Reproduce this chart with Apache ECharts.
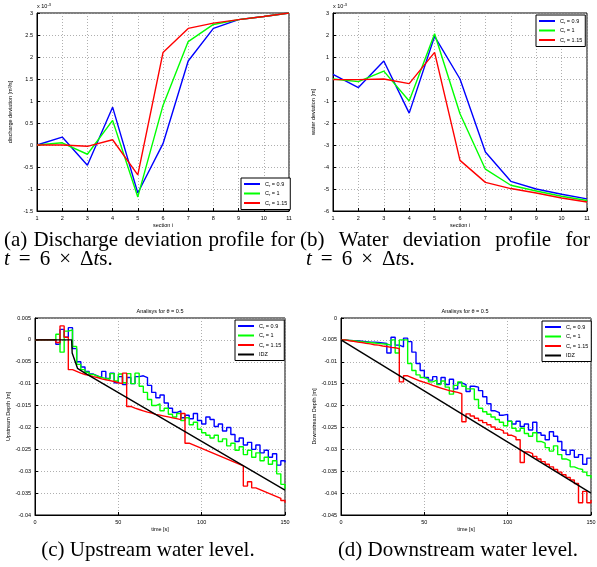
<!DOCTYPE html>
<html>
<head>
<meta charset="utf-8">
<script src="https://cdn.jsdelivr.net/npm/echarts@6/dist/echarts.min.js"></script>
<style>
html, body { margin: 0; padding: 0; background: #fff; }
#chart { width: 597px; height: 567px; }
</style>
</head>
<body>
<div id="chart"></div>
<script>
// (a)/(b) profiles along the sections, values in 10^-3 units
var sections = [1, 2, 3, 4, 5, 6, 7, 8, 9, 10, 11];
var qBlue  = [0, 0.18, -0.46, 0.86, -1.09, 0.03, 1.91, 2.65, 2.85, 2.92, 3.0];
var qGreen = [0, 0.05, -0.21, 0.56, -1.18, 0.90, 2.35, 2.74, 2.85, 2.92, 3.0];
var qRed   = [0, 0, -0.03, 0.12, -0.68, 2.10, 2.65, 2.77, 2.85, 2.92, 3.0];
var hBlue  = [0.21, -0.39, 0.82, -1.55, 1.94, 0.0, -3.32, -4.65, -5.0, -5.24, -5.45];
var hGreen = [0, -0.12, 0.36, -1.0, 2.06, -1.58, -4.1, -4.83, -5.09, -5.33, -5.52];
var hRed   = [-0.03, -0.03, 0, -0.21, 1.21, -3.7, -4.7, -4.98, -5.18, -5.41, -5.59];

// (c)/(d) depth time series, values in mm (x 10^-3 m)
var times = [0, 2.5, 5, 7.5, 10, 12.5, 15, 17.5, 20, 22.5, 25, 27.5, 30, 32.5, 35, 37.5, 40, 42.5, 45, 47.5,
  50, 52.5, 55, 57.5, 60, 62.5, 65, 67.5, 70, 72.5, 75, 77.5, 80, 82.5, 85, 87.5, 90, 92.5, 95, 97.5,
  100, 102.5, 105, 107.5, 110, 112.5, 115, 117.5, 120, 122.5, 125, 127.5, 130, 132.5, 135, 137.5, 140, 142.5, 145, 147.5, 150];

var upBlue = [0, 0, 0, 0, 0, -1.0, 2.4, 0.6, 2.8, -2.0,
  -5.0, -6.2, -7.2, -7.8, -8.2, -8.6, -7.2, -8.8, -7.6, -9.8,
  -8.4, -10.2, -8.6, -10.0, -8.4, -8.2, -8.6, -10.4, -12.0, -13.2,
  -12.6, -14.4, -15.6, -16.6, -16.2, -17.8, -17.2, -18.0, -16.8, -18.4,
  -19.2, -17.6, -18.2, -19.8, -19.2, -20.8, -20.0, -21.6, -23.2, -22.4,
  -24.0, -23.4, -25.0, -24.0, -25.8, -25.2, -26.8, -26.0, -28.6, -27.6,
  -28.0];
var upGreen = [0, 0, 0, 0, 0, 1.3, -2.8, 2.0, 2.3, -1.5,
  -5.6, -6.8, -7.4, -7.9, -8.3, -8.6, -8.8, -9.0, -7.7, -9.4,
  -7.8, -9.8, -7.7, -10.0, -7.6, -10.6, -12.0, -13.6, -15.0, -14.6,
  -16.2, -15.6, -17.0, -17.6, -16.8, -18.4, -17.8, -19.4, -18.8, -20.4,
  -21.2, -21.8, -22.4, -21.8, -23.2, -22.6, -24.2, -23.6, -25.2, -24.4,
  -26.2, -25.2, -26.8, -25.8, -27.6, -26.8, -28.4, -27.6, -30.6, -33.0,
  -34.0];
var upRed = [0, 0, 0, 0, 0, -0.6, 3.2, 0.6, -6.8, -7.2,
  -7.6, -7.9, -8.1, -8.4, -8.6, -8.9, -9.1, -9.3, -9.5, -9.8,
  -10.0, -7.6, -15.2, -15.6, -15.9, -16.2, -16.5, -16.7, -17.0, -17.2,
  -17.4, -17.6, -17.8, -18.0, -18.2, -16.8, -23.6, -24.0, -24.4, -24.8,
  -25.2, -25.6, -26.0, -26.4, -26.8, -27.2, -27.6, -28.0, -28.4, -28.8,
  -33.4, -32.4, -33.8, -34.2, -34.6, -35.0, -35.4, -35.8, -36.2, -36.7,
  -37.2];
var idzUpT = [0, 22, 22.3, 25.5, 30, 150];
var idzUpV = [0, 0, -3, -6.5, -7.6, -34.3];

var dnBlue = [-5.0, -5.1, -5.2, -5.2, -5.3, -5.4, -5.5, -5.5, -5.6, -5.7,
  -5.8, -8.0, -4.4, -6.2, -6.6, -4.6, -5.4, -7.8, -10.4, -12.0,
  -13.6, -14.2, -13.4, -15.0, -13.6, -15.2, -14.0, -16.2, -14.8, -15.2,
  -16.8, -15.6, -15.8, -16.6, -18.0, -19.6, -21.2, -21.6, -22.2, -22.0,
  -23.6, -24.2, -23.6, -24.8, -24.2, -25.6, -23.8, -26.2, -26.8, -27.8,
  -26.0, -27.0, -28.2, -30.2, -31.2, -30.2, -31.8, -31.2, -33.4, -32.0,
  -32.0];
var dnGreen = [-5.0, -5.1, -5.2, -5.3, -5.4, -5.5, -5.6, -5.7, -5.8, -5.9,
  -6.0, -6.2, -5.0, -8.0, -5.0, -5.0, -10.4, -12.0, -13.0, -13.6,
  -14.0, -14.6, -14.2, -15.2, -14.4, -15.8, -17.4, -15.4, -14.6, -15.6,
  -16.2, -16.2, -18.6, -20.6, -21.4, -22.0, -22.6, -23.2, -23.8, -24.6,
  -23.6, -25.2, -25.8, -25.2, -26.4, -27.0, -26.2, -28.2, -28.6, -29.6,
  -30.4, -29.2, -31.2, -32.2, -32.6, -34.0, -34.4, -34.6, -35.2, -36.0,
  -36.6];
var dnRed = [-5.0, -5.2, -5.3, -5.5, -5.6, -5.8, -5.9, -6.1, -6.2, -6.4,
  -6.5, -6.7, -6.8, -7.0, -14.6, -13.2, -13.6, -14.0, -14.4, -14.7,
  -15.0, -15.4, -15.7, -16.0, -16.3, -16.6, -16.8, -17.0, -17.3, -23.7,
  -21.9, -22.4, -22.9, -23.4, -23.9, -24.4, -24.9, -25.4, -25.8, -26.3,
  -26.8, -27.2, -27.8, -33.0, -30.6, -31.0, -31.6, -32.2, -32.8, -33.4,
  -34.0, -34.6, -35.2, -35.8, -36.4, -37.0, -37.8, -42.2, -39.6, -42.2,
  -41.6];
var idzDnT = [0, 150];
var idzDnV = [-5, -40];

var names = ['Cr = 0.9', 'Cr = 1', 'Cr = 1.15', 'IDZ'];
var colors = ['#0000ff', '#00ff00', '#ff0000', '#000000'];

var sans = '"Liberation Sans", Arial, sans-serif';
var serif = '"Liberation Serif", "Times New Roman", serif';

function pairs(xs, ys) {
  return xs.map(function (x, i) { return [x, ys[i]]; });
}
function milli(v) { return v === 0 ? '0' : String(v / 1000); }

function axis(idx, min, max, interval, name, gap, fmt) {
  return {
    type: 'value', gridIndex: idx, min: min, max: max, interval: interval,
    name: name, nameLocation: 'middle', nameGap: gap,
    nameTextStyle: { fontSize: 5.5, color: '#000', fontFamily: sans },
    axisLine: { show: true, onZero: false, lineStyle: { color: '#000', width: 1 } },
    axisTick: { show: true, inside: true, length: 3, lineStyle: { color: '#000' } },
    axisLabel: { fontSize: 5.5, color: '#000', fontFamily: sans, margin: 4, formatter: fmt },
    splitLine: { show: true, lineStyle: { color: '#9a9a9a', type: [1, 2], width: 0.8 } }
  };
}

function line(k, idx, data, step) {
  return {
    type: 'line', name: names[k], xAxisIndex: idx, yAxisIndex: idx, data: data,
    showSymbol: false, symbol: 'none', step: step ? 'end' : false, animation: false,
    lineStyle: { color: colors[k], width: 1.4 }, itemStyle: { color: colors[k] },
    emphasis: { disabled: true }
  };
}

function legend(left, top, items) {
  return {
    left: left, top: top, orient: 'vertical', data: items, icon: 'rect',
    itemWidth: 16, itemHeight: 2, itemGap: 3, padding: [3, 3, 3, 3],
    backgroundColor: '#fff', borderColor: '#000', borderWidth: 1, borderRadius: 0,
    selectedMode: false,
    textStyle: {
      fontSize: 5.5, color: '#000', fontFamily: sans,
      rich: {
        a: { fontSize: 5.5, fontFamily: sans, color: '#000' },
        s: { fontSize: 4, fontFamily: sans, color: '#000', padding: [3, 0, 0, 0] }
      }
    },
    formatter: function (n) {
      if (n === 'IDZ') return '{a|IDZ}';
      return '{a|C}{s|r}{a|' + n.slice(2) + '}';
    }
  };
}

var capSize = 21;
var capFont = capSize + 'px ' + serif;
var ctx = document.createElement('canvas').getContext('2d');
function justified(words, x0, x1, y) {
  ctx.font = capFont;
  var w = words.map(function (s) { return ctx.measureText(s).width; });
  var total = w.reduce(function (a, b) { return a + b; }, 0);
  var gap = (x1 - x0 - total) / (words.length - 1);
  var out = [], x = x0;
  words.forEach(function (s, i) {
    out.push({ type: 'text', style: { text: s, x: x, y: y, font: capFont, fill: '#000', verticalAlign: 'middle' } });
    x += w[i] + gap;
  });
  return out;
}
function mathLine(x, y) {
  return {
    type: 'text',
    style: {
      text: '{i|t}{op|=}{n|6}{op|×}{n|Δ}{i|t}{n|s.}', x: x, y: y, fontSize: capSize, fontFamily: serif, fill: '#000',
      verticalAlign: 'middle',
      rich: {
        i: { fontStyle: 'italic', fontSize: capSize, fontFamily: serif, fill: '#000' },
        n: { fontSize: capSize, fontFamily: serif, fill: '#000' },
        op: { fontSize: capSize, fontFamily: serif, fill: '#000', padding: [0, 9, 0, 9] }
      }
    }
  };
}
function small(text, x, y, align) {
  return {
    type: 'text',
    style: {
      text: text, x: x, y: y, fontSize: 5.5, fontFamily: sans, fill: '#000', align: align || 'left',
      verticalAlign: 'middle',
      rich: { s: { fontSize: 4, fontFamily: sans, padding: [0, 0, 3, 0] } }
    }
  };
}

var graphics = []
  .concat(justified(['(a)', 'Discharge', 'deviation', 'profile', 'for'], 4, 295, 240))
  .concat(justified(['(b)', 'Water', 'deviation', 'profile', 'for'], 300, 590, 240))
  .concat([
    mathLine(4, 259), mathLine(306, 259),
    { type: 'text', style: { text: '(c) Upstream water level.', x: 148, y: 550, font: capFont, fill: '#000', align: 'center', verticalAlign: 'middle' } },
    { type: 'text', style: { text: '(d) Downstream water level.', x: 458, y: 550, font: capFont, fill: '#000', align: 'center', verticalAlign: 'middle' } },
    small('x 10{s|-3}', 37, 6), small('x 10{s|-3}', 333, 6),
    small('Analisys for θ = 0.5', 160, 311, 'center'),
    small('Analisys for θ = 0.5', 465, 311, 'center')
  ]);

var gridBase = { show: true, borderColor: '#000', borderWidth: 1, backgroundColor: '#fff', containLabel: false, outerBoundsMode: 'none' };

var option = {
  backgroundColor: '#fff',
  animation: false,
  grid: [
    Object.assign({ left: 37, top: 13, width: 252, height: 198 }, gridBase),
    Object.assign({ left: 333, top: 13, width: 254, height: 198 }, gridBase),
    Object.assign({ left: 35, top: 318, width: 250, height: 197 }, gridBase),
    Object.assign({ left: 341, top: 318, width: 250, height: 197 }, gridBase)
  ],
  xAxis: [
    axis(0, 1, 11, 1, 'section i', 11),
    axis(1, 1, 11, 1, 'section i', 11),
    axis(2, 0, 150, 50, 'time [s]', 11),
    axis(3, 0, 150, 50, 'time [s]', 11)
  ],
  yAxis: [
    axis(0, -1.5, 3, 0.5, 'discharge deviation [m³/s]', 24),
    axis(1, -6, 3, 1, 'water deviation [m]', 17),
    axis(2, -40, 5, 5, 'Upstream Depth [m]', 22, milli),
    axis(3, -45, 0, 5, 'Downstream Depth [m]', 23, milli)
  ],
  legend: [
    legend(241, 178, names.slice(0, 3)),
    legend(536, 15, names.slice(0, 3)),
    legend(235, 320, names),
    legend(542, 321, names)
  ],
  series: [
    line(0, 0, pairs(sections, qBlue)),
    line(1, 0, pairs(sections, qGreen)),
    line(2, 0, pairs(sections, qRed)),
    line(0, 1, pairs(sections, hBlue)),
    line(1, 1, pairs(sections, hGreen)),
    line(2, 1, pairs(sections, hRed)),
    line(0, 2, pairs(times, upBlue), true),
    line(1, 2, pairs(times, upGreen), true),
    line(2, 2, pairs(times, upRed), true),
    line(3, 2, pairs(idzUpT, idzUpV)),
    line(0, 3, pairs(times, dnBlue), true),
    line(1, 3, pairs(times, dnGreen), true),
    line(2, 3, pairs(times, dnRed), true),
    line(3, 3, pairs(idzDnT, idzDnV))
  ],
  graphic: graphics
};

var chart = echarts.init(document.getElementById('chart'), null, { renderer: 'canvas' });
chart.setOption(option);
</script>
</body>
</html>
